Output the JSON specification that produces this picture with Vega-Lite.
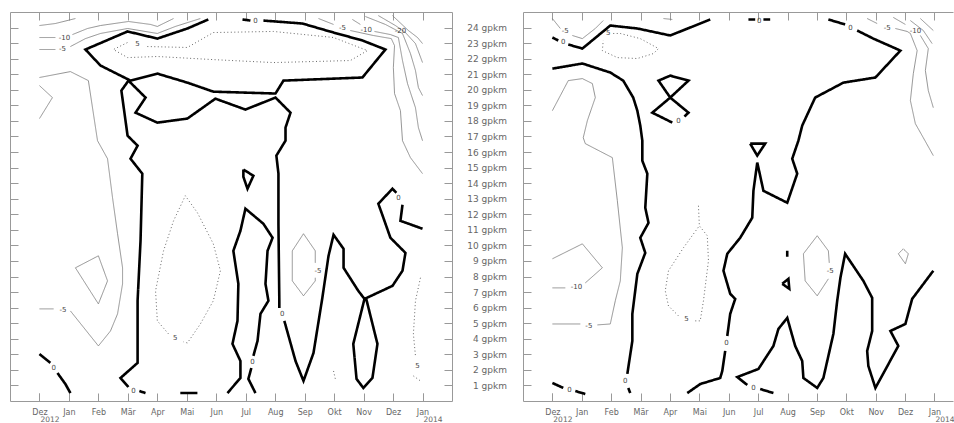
{
"$schema": "https://vega.github.io/schema/vega-lite/v6.json",
"padding": {"left": 9, "top": 11, "right": 0, "bottom": 0},
"spacing": 71,
"bounds": "flush",
"config": {"view": {"stroke": null}, "axis": {"grid": false, "title": null, "domainColor": "#999", "tickColor": "#999", "labelColor": "#666", "labelFont": "DejaVu Sans", "tickSize": -8, "labelFlush": false, "labelOverlap": false, "minExtent": 0}},
"datasets": {
"L": [
{"s":"a1","o":0,"v":0,"x":5.73,"y":24.52},{"s":"a1","o":1,"v":0,"x":5.02,"y":23.94},{"s":"a1","o":2,"v":0,"x":4.00,"y":23.29},{"s":"a1","o":3,"v":0,"x":2.99,"y":23.75},{"s":"a1","o":4,"v":0,"x":1.56,"y":22.59},{"s":"a1","o":5,"v":0,"x":2.07,"y":21.56},{"s":"a1","o":6,"v":0,"x":3.09,"y":20.59},{"s":"a1","o":7,"v":0,"x":4.00,"y":21.04},{"s":"a1","o":8,"v":0,"x":5.02,"y":20.46},{"s":"a1","o":9,"v":0,"x":5.90,"y":19.88},{"s":"a1","o":10,"v":0,"x":8.01,"y":19.76},{"s":"a1","o":11,"v":0,"x":8.28,"y":20.59},{"s":"a1","o":12,"v":0,"x":10.96,"y":20.79},{"s":"a1","o":13,"v":0,"x":11.74,"y":22.59},{"s":"a1","o":14,"v":0,"x":10.96,"y":23.17},{"s":"a1","o":15,"v":0,"x":9.98,"y":23.68},{"s":"a1","o":16,"v":0,"x":8.92,"y":24.26},{"s":"a1","o":17,"v":0,"x":7.60,"y":24.45},
{"s":"a2","o":0,"v":0,"x":6.89,"y":24.52},{"s":"a2","o":1,"v":0,"x":7.16,"y":24.45},
{"s":"a3","o":0,"v":0,"x":3.02,"y":20.59},{"s":"a3","o":1,"v":0,"x":3.60,"y":19.50},{"s":"a3","o":2,"v":0,"x":3.26,"y":18.53},{"s":"a3","o":3,"v":0,"x":4.00,"y":17.89},{"s":"a3","o":4,"v":0,"x":5.02,"y":18.15},{"s":"a3","o":5,"v":0,"x":5.97,"y":19.43},{"s":"a3","o":6,"v":0,"x":6.99,"y":18.73},{"s":"a3","o":7,"v":0,"x":8.01,"y":19.50},{"s":"a3","o":8,"v":0,"x":8.52,"y":18.53},{"s":"a3","o":9,"v":0,"x":8.35,"y":17.57},{"s":"a3","o":10,"v":0,"x":8.35,"y":16.73},{"s":"a3","o":11,"v":0,"x":8.04,"y":15.77},{"s":"a3","o":12,"v":0,"x":8.11,"y":14.61},{"s":"a3","o":13,"v":0,"x":8.11,"y":11.39},{"s":"a3","o":14,"v":0,"x":8.14,"y":6.44},{"s":"a3","o":15,"v":0,"x":8.14,"y":5.98},
{"s":"a4","o":0,"v":0,"x":8.31,"y":5.15},{"s":"a4","o":1,"v":0,"x":8.69,"y":2.57},{"s":"a4","o":2,"v":0,"x":8.96,"y":1.29},{"s":"a4","o":3,"v":0,"x":9.30,"y":3.09},{"s":"a4","o":4,"v":0,"x":9.60,"y":6.63},{"s":"a4","o":5,"v":0,"x":9.81,"y":9.33},{"s":"a4","o":6,"v":0,"x":9.98,"y":10.68},{"s":"a4","o":7,"v":0,"x":10.32,"y":9.78},{"s":"a4","o":8,"v":0,"x":10.32,"y":8.56},{"s":"a4","o":9,"v":0,"x":10.82,"y":7.08},{"s":"a4","o":10,"v":0,"x":11.03,"y":6.56},{"s":"a4","o":11,"v":0,"x":11.98,"y":7.40},{"s":"a4","o":12,"v":0,"x":12.32,"y":8.37},{"s":"a4","o":13,"v":0,"x":12.42,"y":9.52},{"s":"a4","o":14,"v":0,"x":11.91,"y":10.49},{"s":"a4","o":15,"v":0,"x":11.67,"y":11.78},{"s":"a4","o":16,"v":0,"x":11.50,"y":12.68},{"s":"a4","o":17,"v":0,"x":11.98,"y":13.64},{"s":"a4","o":18,"v":0,"x":12.11,"y":13.38},
{"s":"a5","o":0,"v":0,"x":12.32,"y":12.61},{"s":"a5","o":1,"v":0,"x":12.25,"y":11.58},{"s":"a5","o":2,"v":0,"x":13.00,"y":11.07},
{"s":"a6","o":0,"v":0,"x":11.03,"y":6.56},{"s":"a6","o":1,"v":0,"x":10.65,"y":3.67},{"s":"a6","o":2,"v":0,"x":10.76,"y":1.42},{"s":"a6","o":3,"v":0,"x":10.99,"y":0.84},{"s":"a6","o":4,"v":0,"x":11.30,"y":1.48},{"s":"a6","o":5,"v":0,"x":11.47,"y":3.67},{"s":"a6","o":6,"v":0,"x":11.09,"y":6.56},
{"s":"a7","o":0,"v":0,"x":3.02,"y":20.59},{"s":"a7","o":1,"v":0,"x":2.78,"y":19.95},{"s":"a7","o":2,"v":0,"x":2.92,"y":18.02},{"s":"a7","o":3,"v":0,"x":2.99,"y":17.05},{"s":"a7","o":4,"v":0,"x":3.33,"y":16.41},{"s":"a7","o":5,"v":0,"x":3.09,"y":15.57},{"s":"a7","o":6,"v":0,"x":3.49,"y":14.61},{"s":"a7","o":7,"v":0,"x":3.43,"y":10.30},{"s":"a7","o":8,"v":0,"x":3.33,"y":6.44},{"s":"a7","o":9,"v":0,"x":3.33,"y":2.45},{"s":"a7","o":10,"v":0,"x":2.75,"y":1.48},{"s":"a7","o":11,"v":0,"x":3.02,"y":0.90},
{"s":"a8","o":0,"v":0,"x":3.39,"y":0.64},{"s":"a8","o":1,"v":0,"x":3.60,"y":0.51},
{"s":"a9","o":0,"v":0,"x":6.92,"y":14.87},{"s":"a9","o":1,"v":0,"x":7.26,"y":14.48},{"s":"a9","o":2,"v":0,"x":7.06,"y":13.64},{"s":"a9","o":3,"v":0,"x":6.92,"y":14.41},{"s":"a9","o":4,"v":0,"x":6.92,"y":14.87},
{"s":"a10","o":0,"v":0,"x":6.38,"y":0.51},{"s":"a10","o":1,"v":0,"x":6.82,"y":1.48},{"s":"a10","o":2,"v":0,"x":6.82,"y":2.57},{"s":"a10","o":3,"v":0,"x":6.55,"y":3.67},{"s":"a10","o":4,"v":0,"x":6.72,"y":5.15},{"s":"a10","o":5,"v":0,"x":6.75,"y":7.53},{"s":"a10","o":6,"v":0,"x":6.58,"y":9.65},{"s":"a10","o":7,"v":0,"x":6.82,"y":10.94},{"s":"a10","o":8,"v":0,"x":6.99,"y":12.36},{"s":"a10","o":9,"v":0,"x":7.60,"y":11.39},{"s":"a10","o":10,"v":0,"x":7.91,"y":10.49},{"s":"a10","o":11,"v":0,"x":7.74,"y":9.65},{"s":"a10","o":12,"v":0,"x":7.67,"y":7.53},{"s":"a10","o":13,"v":0,"x":7.77,"y":6.44},{"s":"a10","o":14,"v":0,"x":7.50,"y":5.60},{"s":"a10","o":15,"v":0,"x":7.40,"y":3.86},{"s":"a10","o":16,"v":0,"x":7.26,"y":2.90},
{"s":"a11","o":0,"v":0,"x":7.19,"y":2.12},{"s":"a11","o":1,"v":0,"x":7.09,"y":1.42},{"s":"a11","o":2,"v":0,"x":7.33,"y":0.51},
{"s":"a12","o":0,"v":0,"x":0.0,"y":3.02},{"s":"a12","o":1,"v":0,"x":0.37,"y":2.45},
{"s":"a13","o":0,"v":0,"x":0.61,"y":1.80},{"s":"a13","o":1,"v":0,"x":0.88,"y":1.09},{"s":"a13","o":2,"v":0,"x":1.05,"y":0.51},
{"s":"a14","o":0,"v":0,"x":4.78,"y":0.51},{"s":"a14","o":1,"v":0,"x":5.36,"y":0.51},
{"s":"b1","o":0,"v":-5,"x":0.0,"y":20.79},{"s":"b1","o":1,"v":-5,"x":1.05,"y":21.17},{"s":"b1","o":2,"v":-5,"x":1.66,"y":20.59},{"s":"b1","o":3,"v":-5,"x":1.97,"y":16.73},{"s":"b1","o":4,"v":-5,"x":2.31,"y":15.57},{"s":"b1","o":5,"v":-5,"x":2.48,"y":13.06},{"s":"b1","o":6,"v":-5,"x":2.65,"y":10.75},{"s":"b1","o":7,"v":-5,"x":2.82,"y":8.56},{"s":"b1","o":8,"v":-5,"x":2.82,"y":7.53},{"s":"b1","o":9,"v":-5,"x":2.65,"y":5.60},{"s":"b1","o":10,"v":-5,"x":2.41,"y":4.50},{"s":"b1","o":11,"v":-5,"x":2.00,"y":3.54},{"s":"b1","o":12,"v":-5,"x":1.05,"y":5.79},
{"s":"b2","o":0,"v":-5,"x":0.0,"y":5.92},{"s":"b2","o":1,"v":-5,"x":0.48,"y":5.92},
{"s":"b3","o":0,"v":-10,"x":0.0,"y":20.27},{"s":"b3","o":1,"v":-10,"x":0.44,"y":19.50},{"s":"b3","o":2,"v":-10,"x":0.0,"y":18.15},
{"s":"b4","o":0,"v":-10,"x":1.22,"y":8.56},{"s":"b4","o":1,"v":-10,"x":2.00,"y":9.33},{"s":"b4","o":2,"v":-10,"x":2.31,"y":7.72},{"s":"b4","o":3,"v":-10,"x":2.00,"y":6.24},{"s":"b4","o":4,"v":-10,"x":1.22,"y":8.56},
{"s":"b5","o":0,"v":-15,"x":0.0,"y":24.13},{"s":"b5","o":1,"v":-15,"x":0.54,"y":24.26},{"s":"b5","o":2,"v":-15,"x":1.22,"y":24.58},
{"s":"b6","o":0,"v":-10,"x":0.0,"y":23.36},{"s":"b6","o":1,"v":-10,"x":0.54,"y":23.36},
{"s":"b7","o":0,"v":-10,"x":1.12,"y":23.55},{"s":"b7","o":1,"v":-10,"x":1.63,"y":23.94},{"s":"b7","o":2,"v":-10,"x":2.07,"y":24.13},{"s":"b7","o":3,"v":-10,"x":3.02,"y":24.39},{"s":"b7","o":4,"v":-10,"x":3.77,"y":24.20},{"s":"b7","o":5,"v":-10,"x":4.00,"y":24.07},{"s":"b7","o":6,"v":-10,"x":4.55,"y":24.58},
{"s":"b8","o":0,"v":-5,"x":0.0,"y":22.59},{"s":"b8","o":1,"v":-5,"x":0.54,"y":22.59},
{"s":"b9","o":0,"v":-5,"x":1.05,"y":22.78},{"s":"b9","o":1,"v":-5,"x":1.56,"y":23.29},{"s":"b9","o":2,"v":-5,"x":2.07,"y":23.62},{"s":"b9","o":3,"v":-5,"x":2.99,"y":23.94},{"s":"b9","o":4,"v":-5,"x":4.00,"y":23.62},{"s":"b9","o":5,"v":-5,"x":4.61,"y":24.07},{"s":"b9","o":6,"v":-5,"x":5.46,"y":24.58},
{"s":"c1","o":0,"v":-5,"x":9.36,"y":8.88},{"s":"c1","o":1,"v":-5,"x":9.36,"y":9.65},{"s":"c1","o":2,"v":-5,"x":8.96,"y":10.75},{"s":"c1","o":3,"v":-5,"x":8.58,"y":9.65},{"s":"c1","o":4,"v":-5,"x":8.58,"y":7.72},{"s":"c1","o":5,"v":-5,"x":8.96,"y":6.76},{"s":"c1","o":6,"v":-5,"x":9.36,"y":7.72},{"s":"c1","o":7,"v":-5,"x":9.36,"y":7.92},
{"s":"f1","o":0,"v":-5,"x":9.47,"y":24.58},{"s":"f1","o":1,"v":-5,"x":9.98,"y":24.20},
{"s":"f2","o":0,"v":-5,"x":10.55,"y":23.81},{"s":"f2","o":1,"v":-5,"x":11.33,"y":23.49},{"s":"f2","o":2,"v":-5,"x":11.94,"y":23.29},{"s":"f2","o":3,"v":-5,"x":12.05,"y":22.84},{"s":"f2","o":4,"v":-5,"x":12.01,"y":21.43},{"s":"f2","o":5,"v":-5,"x":12.05,"y":19.76},{"s":"f2","o":6,"v":-5,"x":12.25,"y":18.66},{"s":"f2","o":7,"v":-5,"x":12.32,"y":16.73},{"s":"f2","o":8,"v":-5,"x":12.59,"y":15.64},{"s":"f2","o":9,"v":-5,"x":13.00,"y":14.61},
{"s":"f3","o":0,"v":-10,"x":10.62,"y":24.52},{"s":"f3","o":1,"v":-10,"x":10.89,"y":24.20},
{"s":"f4","o":0,"v":-10,"x":11.37,"y":23.75},{"s":"f4","o":1,"v":-10,"x":11.91,"y":23.55},{"s":"f4","o":2,"v":-10,"x":12.18,"y":23.36},{"s":"f4","o":3,"v":-10,"x":12.32,"y":21.88},{"s":"f4","o":4,"v":-10,"x":12.49,"y":20.40},{"s":"f4","o":5,"v":-10,"x":12.76,"y":18.85},{"s":"f4","o":6,"v":-10,"x":12.86,"y":17.57},{"s":"f4","o":7,"v":-10,"x":13.00,"y":16.73},
{"s":"f5","o":0,"v":-15,"x":11.06,"y":24.71},{"s":"f5","o":1,"v":-15,"x":11.74,"y":24.20},{"s":"f5","o":2,"v":-15,"x":12.32,"y":23.62},{"s":"f5","o":3,"v":-15,"x":12.59,"y":22.33},{"s":"f5","o":4,"v":-15,"x":12.76,"y":21.24},{"s":"f5","o":5,"v":-15,"x":12.86,"y":20.14},{"s":"f5","o":6,"v":-15,"x":13.00,"y":19.63},
{"s":"f6","o":0,"v":-20,"x":11.50,"y":24.77},{"s":"f6","o":1,"v":-20,"x":12.08,"y":24.13},{"s":"f6","o":2,"v":-20,"x":12.42,"y":23.68},{"s":"f6","o":3,"v":-20,"x":12.76,"y":22.97},{"s":"f6","o":4,"v":-20,"x":13.00,"y":21.75},
{"s":"f7","o":0,"v":-25,"x":11.98,"y":24.77},{"s":"f7","o":1,"v":-25,"x":12.52,"y":23.81},{"s":"f7","o":2,"v":-25,"x":12.83,"y":23.36},{"s":"f7","o":3,"v":-25,"x":13.00,"y":22.97},
{"s":"d1","o":0,"v":5,"x":3.66,"y":22.78},{"s":"d1","o":1,"v":5,"x":5.02,"y":22.72},{"s":"d1","o":2,"v":5,"x":5.90,"y":23.68},{"s":"d1","o":3,"v":5,"x":7.94,"y":23.75},{"s":"d1","o":4,"v":5,"x":9.98,"y":23.36},{"s":"d1","o":5,"v":5,"x":11.13,"y":22.52},{"s":"d1","o":6,"v":5,"x":10.55,"y":21.88},{"s":"d1","o":7,"v":5,"x":7.94,"y":21.75},{"s":"d1","o":8,"v":5,"x":5.90,"y":21.94},{"s":"d1","o":9,"v":5,"x":4.00,"y":22.14},{"s":"d1","o":10,"v":5,"x":2.99,"y":22.07},{"s":"d1","o":11,"v":5,"x":2.51,"y":22.59},{"s":"d1","o":12,"v":5,"x":2.99,"y":23.04},
{"s":"d2","o":0,"v":5,"x":4.38,"y":4.31},{"s":"d2","o":1,"v":5,"x":4.00,"y":5.15},{"s":"d2","o":2,"v":5,"x":3.94,"y":7.08},{"s":"d2","o":3,"v":5,"x":4.21,"y":9.65},{"s":"d2","o":4,"v":5,"x":4.55,"y":11.58},{"s":"d2","o":5,"v":5,"x":4.95,"y":13.19},{"s":"d2","o":6,"v":5,"x":5.36,"y":12.10},{"s":"d2","o":7,"v":5,"x":5.90,"y":10.10},{"s":"d2","o":8,"v":5,"x":6.14,"y":8.37},{"s":"d2","o":9,"v":5,"x":5.90,"y":6.44},{"s":"d2","o":10,"v":5,"x":5.46,"y":4.95},{"s":"d2","o":11,"v":5,"x":5.02,"y":3.73},{"s":"d2","o":12,"v":5,"x":4.89,"y":3.80},
{"s":"d3","o":0,"v":5,"x":12.93,"y":7.92},{"s":"d3","o":1,"v":5,"x":12.76,"y":6.44},{"s":"d3","o":2,"v":5,"x":12.69,"y":4.31},{"s":"d3","o":3,"v":5,"x":12.76,"y":2.90},
{"s":"d4","o":0,"v":5,"x":12.69,"y":1.61},{"s":"d4","o":1,"v":5,"x":12.93,"y":1.29},
{"s":"d5","o":0,"v":5,"x":9.98,"y":1.93},{"s":"d5","o":1,"v":5,"x":10.04,"y":1.42}
],
"R": [
{"s":"r1","o":0,"v":0,"x":0.0,"y":23.36},{"s":"r1","o":1,"v":0,"x":0.20,"y":23.17},
{"s":"r2","o":0,"v":0,"x":0.54,"y":22.91},{"s":"r2","o":1,"v":0,"x":1.02,"y":22.65},{"s":"r2","o":2,"v":0,"x":1.97,"y":24.13},{"s":"r2","o":3,"v":0,"x":2.89,"y":23.94},{"s":"r2","o":4,"v":0,"x":4.01,"y":23.49},{"s":"r2","o":5,"v":0,"x":5.37,"y":24.52},
{"s":"r3","o":0,"v":0,"x":6.67,"y":24.52},{"s":"r3","o":1,"v":0,"x":6.90,"y":24.52},
{"s":"r3b","o":0,"v":0,"x":7.18,"y":24.52},{"s":"r3b","o":1,"v":0,"x":7.41,"y":24.52},
{"s":"r4","o":0,"v":0,"x":9.39,"y":24.52},{"s":"r4","o":1,"v":0,"x":9.96,"y":24.20},
{"s":"r5","o":0,"v":0,"x":10.37,"y":23.81},{"s":"r5","o":1,"v":0,"x":10.92,"y":23.29},{"s":"r5","o":2,"v":0,"x":11.84,"y":22.52},{"s":"r5","o":3,"v":0,"x":10.99,"y":20.79},{"s":"r5","o":4,"v":0,"x":9.90,"y":20.46},{"s":"r5","o":5,"v":0,"x":8.94,"y":19.50},{"s":"r5","o":6,"v":0,"x":8.50,"y":17.70},{"s":"r5","o":7,"v":0,"x":8.37,"y":16.73},{"s":"r5","o":8,"v":0,"x":8.16,"y":15.57},{"s":"r5","o":9,"v":0,"x":8.33,"y":14.61},{"s":"r5","o":10,"v":0,"x":7.99,"y":12.74},{"s":"r5","o":11,"v":0,"x":7.18,"y":13.51},{"s":"r5","o":12,"v":0,"x":7.01,"y":14.99},{"s":"r5","o":13,"v":0,"x":6.97,"y":15.32},{"s":"r5","o":14,"v":0,"x":6.84,"y":13.51},{"s":"r5","o":15,"v":0,"x":6.80,"y":11.78},{"s":"r5","o":16,"v":0,"x":6.39,"y":10.49},{"s":"r5","o":17,"v":0,"x":5.95,"y":9.46},{"s":"r5","o":18,"v":0,"x":5.82,"y":8.37},{"s":"r5","o":19,"v":0,"x":6.05,"y":6.89},{"s":"r5","o":20,"v":0,"x":6.22,"y":6.56},{"s":"r5","o":21,"v":0,"x":6.05,"y":5.60},{"s":"r5","o":22,"v":0,"x":5.95,"y":4.18},
{"s":"r6","o":0,"v":0,"x":5.88,"y":3.22},{"s":"r6","o":1,"v":0,"x":5.78,"y":1.93},{"s":"r6","o":2,"v":0,"x":5.71,"y":1.48},{"s":"r6","o":3,"v":0,"x":5.03,"y":1.09},{"s":"r6","o":4,"v":0,"x":4.59,"y":0.51},
{"s":"r7","o":0,"v":0,"x":6.73,"y":16.54},{"s":"r7","o":1,"v":0,"x":7.24,"y":16.54},{"s":"r7","o":2,"v":0,"x":6.97,"y":15.77},{"s":"r7","o":3,"v":0,"x":6.73,"y":16.54},
{"s":"r8","o":0,"v":0,"x":0.0,"y":21.36},{"s":"r8","o":1,"v":0,"x":1.02,"y":21.69},{"s":"r8","o":2,"v":0,"x":1.97,"y":21.11},{"s":"r8","o":3,"v":0,"x":2.41,"y":20.59},{"s":"r8","o":4,"v":0,"x":2.75,"y":19.50},{"s":"r8","o":5,"v":0,"x":2.89,"y":18.66},{"s":"r8","o":6,"v":0,"x":2.99,"y":17.70},{"s":"r8","o":7,"v":0,"x":3.06,"y":16.73},{"s":"r8","o":8,"v":0,"x":3.06,"y":15.44},{"s":"r8","o":9,"v":0,"x":3.23,"y":14.61},{"s":"r8","o":10,"v":0,"x":3.16,"y":12.42},{"s":"r8","o":11,"v":0,"x":3.27,"y":11.45},{"s":"r8","o":12,"v":0,"x":2.99,"y":10.49},{"s":"r8","o":13,"v":0,"x":3.16,"y":9.52},{"s":"r8","o":14,"v":0,"x":2.89,"y":8.17},{"s":"r8","o":15,"v":0,"x":2.72,"y":5.60},{"s":"r8","o":16,"v":0,"x":2.72,"y":3.86},{"s":"r8","o":17,"v":0,"x":2.58,"y":2.12},{"s":"r8","o":18,"v":0,"x":2.55,"y":1.74},
{"s":"r9","o":0,"v":0,"x":2.58,"y":0.84},{"s":"r9","o":1,"v":0,"x":2.65,"y":0.51},
{"s":"r10","o":0,"v":0,"x":4.08,"y":17.89},{"s":"r10","o":1,"v":0,"x":3.40,"y":18.53},{"s":"r10","o":2,"v":0,"x":4.01,"y":19.50},{"s":"r10","o":3,"v":0,"x":3.61,"y":20.59},{"s":"r10","o":4,"v":0,"x":4.01,"y":20.91},{"s":"r10","o":5,"v":0,"x":4.63,"y":20.59},{"s":"r10","o":6,"v":0,"x":4.01,"y":19.50},{"s":"r10","o":7,"v":0,"x":4.63,"y":18.53},{"s":"r10","o":8,"v":0,"x":4.49,"y":18.28},
{"s":"r11","o":0,"v":0,"x":7.99,"y":9.65},{"s":"r11","o":1,"v":0,"x":7.99,"y":9.27},
{"s":"r12","o":0,"v":0,"x":7.82,"y":7.53},{"s":"r12","o":1,"v":0,"x":8.03,"y":7.85},{"s":"r12","o":2,"v":0,"x":8.06,"y":7.21},{"s":"r12","o":3,"v":0,"x":7.82,"y":7.53},
{"s":"r13","o":0,"v":0,"x":6.63,"y":1.03},{"s":"r13","o":1,"v":0,"x":6.29,"y":1.54},{"s":"r13","o":2,"v":0,"x":7.01,"y":2.06},{"s":"r13","o":3,"v":0,"x":7.52,"y":3.54},{"s":"r13","o":4,"v":0,"x":7.69,"y":4.63},{"s":"r13","o":5,"v":0,"x":7.99,"y":5.34},{"s":"r13","o":6,"v":0,"x":8.26,"y":3.54},{"s":"r13","o":7,"v":0,"x":8.50,"y":2.57},{"s":"r13","o":8,"v":0,"x":8.54,"y":1.48},{"s":"r13","o":9,"v":0,"x":9.01,"y":0.84},{"s":"r13","o":10,"v":0,"x":9.22,"y":1.48},{"s":"r13","o":11,"v":0,"x":9.56,"y":4.31},{"s":"r13","o":12,"v":0,"x":9.69,"y":6.44},{"s":"r13","o":13,"v":0,"x":9.80,"y":7.92},{"s":"r13","o":14,"v":0,"x":9.96,"y":9.46},{"s":"r13","o":15,"v":0,"x":10.58,"y":7.72},{"s":"r13","o":16,"v":0,"x":10.88,"y":6.63},{"s":"r13","o":17,"v":0,"x":10.88,"y":4.50},{"s":"r13","o":18,"v":0,"x":10.71,"y":3.22},{"s":"r13","o":19,"v":0,"x":10.75,"y":2.25},{"s":"r13","o":20,"v":0,"x":10.99,"y":0.84},{"s":"r13","o":21,"v":0,"x":11.77,"y":3.54},{"s":"r13","o":22,"v":0,"x":11.50,"y":4.50},{"s":"r13","o":23,"v":0,"x":12.01,"y":4.95},{"s":"r13","o":24,"v":0,"x":12.24,"y":6.56},{"s":"r13","o":25,"v":0,"x":12.96,"y":8.37},
{"s":"r14","o":0,"v":0,"x":7.07,"y":0.77},{"s":"r14","o":1,"v":0,"x":7.52,"y":0.51},
{"s":"r15","o":0,"v":0,"x":0.0,"y":1.16},{"s":"r15","o":1,"v":0,"x":0.37,"y":0.84},
{"s":"r16","o":0,"v":0,"x":0.78,"y":0.64},{"s":"r16","o":1,"v":0,"x":1.12,"y":0.45},
{"s":"s1","o":0,"v":-5,"x":0.0,"y":24.58},{"s":"s1","o":1,"v":-5,"x":0.27,"y":23.94},
{"s":"s2","o":0,"v":-5,"x":0.68,"y":23.49},{"s":"s2","o":1,"v":-5,"x":1.02,"y":23.29},{"s":"s2","o":2,"v":-5,"x":1.46,"y":23.94},{"s":"s2","o":3,"v":-5,"x":1.73,"y":24.45},
{"s":"s3","o":0,"v":-5,"x":3.78,"y":24.58},{"s":"s3","o":1,"v":-5,"x":4.08,"y":24.52},
{"s":"s4","o":0,"v":-5,"x":0.0,"y":18.66},{"s":"s4","o":1,"v":-5,"x":0.54,"y":20.59},{"s":"s4","o":2,"v":-5,"x":1.02,"y":20.72},{"s":"s4","o":3,"v":-5,"x":1.36,"y":20.40},{"s":"s4","o":4,"v":-5,"x":1.46,"y":19.50},{"s":"s4","o":5,"v":-5,"x":1.19,"y":18.02},{"s":"s4","o":6,"v":-5,"x":1.05,"y":16.92},{"s":"s4","o":7,"v":-5,"x":1.12,"y":16.54},{"s":"s4","o":8,"v":-5,"x":2.04,"y":15.64},{"s":"s4","o":9,"v":-5,"x":2.21,"y":12.87},{"s":"s4","o":10,"v":-5,"x":2.38,"y":9.85},{"s":"s4","o":11,"v":-5,"x":2.31,"y":7.72},{"s":"s4","o":12,"v":-5,"x":2.14,"y":6.44},{"s":"s4","o":13,"v":-5,"x":1.97,"y":4.95},{"s":"s4","o":14,"v":-5,"x":1.53,"y":4.89},
{"s":"s5","o":0,"v":-5,"x":0.95,"y":4.95},{"s":"s5","o":1,"v":-5,"x":0.0,"y":4.95},
{"s":"s6","o":0,"v":-10,"x":1.12,"y":7.59},{"s":"s6","o":1,"v":-10,"x":1.70,"y":8.56},{"s":"s6","o":2,"v":-10,"x":1.02,"y":10.10},{"s":"s6","o":3,"v":-10,"x":0.0,"y":9.14},
{"s":"s7","o":0,"v":-10,"x":0.0,"y":7.27},{"s":"s7","o":1,"v":-10,"x":0.44,"y":7.27},
{"s":"s8","o":0,"v":-5,"x":9.42,"y":8.88},{"s":"s8","o":1,"v":-5,"x":9.39,"y":9.65},{"s":"s8","o":2,"v":-5,"x":9.01,"y":10.62},{"s":"s8","o":3,"v":-5,"x":8.54,"y":9.46},{"s":"s8","o":4,"v":-5,"x":8.60,"y":7.72},{"s":"s8","o":5,"v":-5,"x":9.01,"y":6.76},{"s":"s8","o":6,"v":-5,"x":9.39,"y":7.85},
{"s":"s9","o":0,"v":-5,"x":11.77,"y":9.46},{"s":"s9","o":1,"v":-5,"x":11.94,"y":9.78},{"s":"s9","o":2,"v":-5,"x":12.11,"y":9.46},{"s":"s9","o":3,"v":-5,"x":12.01,"y":8.82},{"s":"s9","o":4,"v":-5,"x":11.77,"y":9.46},
{"s":"t1","o":0,"v":-5,"x":10.71,"y":24.58},{"s":"t1","o":1,"v":-5,"x":11.05,"y":24.26},
{"s":"t2","o":0,"v":-5,"x":11.67,"y":23.94},{"s":"t2","o":1,"v":-5,"x":12.07,"y":23.75},{"s":"t2","o":2,"v":-5,"x":12.18,"y":23.62},{"s":"t2","o":3,"v":-5,"x":12.41,"y":22.52},{"s":"t2","o":4,"v":-5,"x":12.28,"y":21.04},{"s":"t2","o":5,"v":-5,"x":12.18,"y":19.31},{"s":"t2","o":6,"v":-5,"x":12.35,"y":17.82},{"s":"t2","o":7,"v":-5,"x":12.62,"y":16.92},{"s":"t2","o":8,"v":-5,"x":12.96,"y":15.77},
{"s":"t3","o":0,"v":-10,"x":11.60,"y":24.65},{"s":"t3","o":1,"v":-10,"x":12.01,"y":24.20},
{"s":"t4","o":0,"v":-10,"x":12.52,"y":23.49},{"s":"t4","o":1,"v":-10,"x":12.79,"y":22.65},{"s":"t4","o":2,"v":-10,"x":12.69,"y":21.24},{"s":"t4","o":3,"v":-10,"x":12.79,"y":19.95},{"s":"t4","o":4,"v":-10,"x":12.96,"y":18.85},
{"s":"t5","o":0,"v":-15,"x":12.18,"y":24.45},{"s":"t5","o":1,"v":-15,"x":12.62,"y":23.81},{"s":"t5","o":2,"v":-15,"x":12.92,"y":22.97},
{"s":"t6","o":0,"v":-20,"x":12.52,"y":24.58},{"s":"t6","o":1,"v":-20,"x":12.96,"y":23.81},
{"s":"d6","o":0,"v":5,"x":2.07,"y":23.62},{"s":"d6","o":1,"v":5,"x":2.31,"y":23.62},{"s":"d6","o":2,"v":5,"x":2.99,"y":23.29},{"s":"d6","o":3,"v":5,"x":3.61,"y":22.65},{"s":"d6","o":4,"v":5,"x":3.44,"y":22.33},{"s":"d6","o":5,"v":5,"x":2.89,"y":22.01},{"s":"d6","o":6,"v":5,"x":2.21,"y":22.07},{"s":"d6","o":7,"v":5,"x":1.70,"y":22.52},{"s":"d6","o":8,"v":5,"x":1.73,"y":23.17},
{"s":"d7","o":0,"v":5,"x":4.97,"y":12.55},{"s":"d7","o":1,"v":5,"x":5.00,"y":11.26},{"s":"d7","o":2,"v":5,"x":5.27,"y":10.62},{"s":"d7","o":3,"v":5,"x":5.31,"y":9.01},{"s":"d7","o":4,"v":5,"x":5.14,"y":6.44},{"s":"d7","o":5,"v":5,"x":5.03,"y":5.15},{"s":"d7","o":6,"v":5,"x":4.83,"y":5.15},
{"s":"d8","o":0,"v":5,"x":4.29,"y":5.47},{"s":"d8","o":1,"v":5,"x":3.95,"y":6.11},{"s":"d8","o":2,"v":5,"x":3.84,"y":7.08},{"s":"d8","o":3,"v":5,"x":3.95,"y":8.37},{"s":"d8","o":4,"v":5,"x":4.46,"y":9.85},{"s":"d8","o":5,"v":5,"x":5.00,"y":11.26}
],
"LT": [
{"x":7.33,"y":24.39,"t":"0"},{"x":8.24,"y":5.60,"t":"0"},{"x":12.18,"y":13.06,"t":"0"},{"x":3.19,"y":0.64,"t":"0"},{"x":7.23,"y":2.51,"t":"0"},{"x":0.48,"y":2.12,"t":"0"},
{"x":0.80,"y":5.86,"t":"-5"},{"x":0.85,"y":23.36,"t":"-10"},{"x":0.78,"y":22.65,"t":"-5"},{"x":3.33,"y":22.97,"t":"5"},{"x":4.61,"y":4.05,"t":"5"},{"x":12.83,"y":2.25,"t":"5"},
{"x":9.45,"y":8.37,"t":"-5"},{"x":10.28,"y":24.00,"t":"-5"},{"x":11.09,"y":23.87,"t":"-10"},{"x":12.25,"y":23.81,"t":"-20"}
],
"RT": [
{"x":0.44,"y":23.75,"t":"-5"},{"x":0.37,"y":23.04,"t":"0"},{"x":7.04,"y":24.39,"t":"0"},{"x":10.14,"y":23.94,"t":"0"},{"x":5.92,"y":3.73,"t":"0"},{"x":2.48,"y":1.29,"t":"0"},
{"x":4.29,"y":18.02,"t":"0"},{"x":6.84,"y":0.84,"t":"0"},{"x":0.58,"y":0.71,"t":"0"},{"x":1.24,"y":4.83,"t":"-5"},{"x":0.82,"y":7.34,"t":"-10"},{"x":9.45,"y":8.37,"t":"-5"},
{"x":11.39,"y":24.00,"t":"-5"},{"x":12.35,"y":23.75,"t":"-10"},{"x":1.90,"y":23.62,"t":"5"},{"x":4.56,"y":5.28,"t":"5"}
]
},
"hconcat": [
{
"width": 442, "height": 389,
"resolve": {"axis": {"x": "independent", "y": "independent"}},
"layer": [
{"data": {"name": "L"},
 "mark": {"type": "line", "strokeJoin": "miter"},
 "encoding": {
  "x": {"field": "x", "type": "quantitative", "scale": {"domain": [-1, 14], "nice": false, "zero": false},
        "axis": {"orient": "bottom", "values": [0,1,2,3,4,5,6,7,8,9,10,11,12,13], "labelFontSize": 8, "labelPadding": 15,
                 "labelExpr": "['Dez','Jan','Feb','Mär','Apr','Mai','Jun','Jul','Aug','Sep','Okt','Nov','Dez','Jan'][datum.value]"}},
  "y": {"field": "y", "type": "quantitative", "scale": {"domain": [0, 25], "nice": false, "zero": false},
        "axis": {"orient": "left", "values": [1,2,3,4,5,6,7,8,9,10,11,12,13,14,15,16,17,18,19,20,21,22,23,24], "labels": false}},
  "detail": {"field": "s"},
  "order": {"field": "o", "type": "quantitative"},
  "color": {"field": "v", "type": "ordinal", "scale": {"type": "ordinal", "domain": [-25,-20,-15,-10,-5,0,5], "range": ["#777","#777","#777","#777","#777","#000","#666"]}, "legend": null},
  "strokeWidth": {"field": "v", "type": "ordinal", "scale": {"type": "ordinal", "domain": [-25,-20,-15,-10,-5,0,5], "range": [0.8,0.8,0.8,0.8,0.8,2.6,1]}, "legend": null},
  "strokeDash": {"field": "v", "type": "ordinal", "scale": {"type": "ordinal", "domain": [-25,-20,-15,-10,-5,0,5], "range": [[1,0],[1,0],[1,0],[1,0],[1,0],[1,0],[1,2.5]]}, "legend": null}
 }},
{"data": {"name": "LT"},
 "mark": {"type": "text", "fontSize": 7, "font": "DejaVu Sans", "color": "#444"},
 "encoding": {
  "x": {"field": "x", "type": "quantitative",
        "axis": {"orient": "bottom", "values": [0, 13], "domain": false, "labelFontSize": 7.5, "labelPadding": 22.5, "labelOffset": 10, "labelExpr": "datum.value == 0 ? '2012' : '2014'"}},
  "y": {"field": "y", "type": "quantitative", "axis": null},
  "text": {"field": "t"}
 }},
{"data": {"name": "L"},
 "mark": {"type": "point", "opacity": 0},
 "encoding": {
  "x": {"field": "x", "type": "quantitative", "axis": {"orient": "top", "values": [0,1,2,3,4,5,6,7,8,9,10,11,12,13], "labels": false}},
  "y": {"field": "y", "type": "quantitative", "axis": {"orient": "right", "values": [1,2,3,4,5,6,7,8,9,10,11,12,13,14,15,16,17,18,19,20,21,22,23,24], "labels": false}}
 }}
]
},
{
"width": 430, "height": 389,
"resolve": {"axis": {"x": "independent", "y": "independent"}},
"layer": [
{"data": {"name": "R"},
 "mark": {"type": "line", "strokeJoin": "miter"},
 "encoding": {
  "x": {"field": "x", "type": "quantitative", "scale": {"domain": [-1, 13.63], "nice": false, "zero": false},
        "axis": {"orient": "bottom", "values": [0,1,2,3,4,5,6,7,8,9,10,11,12,13], "labelFontSize": 8, "labelPadding": 15,
                 "labelExpr": "['Dez','Jan','Feb','Mär','Apr','Mai','Jun','Jul','Aug','Sep','Okt','Nov','Dez','Jan'][datum.value]"}},
  "y": {"field": "y", "type": "quantitative", "scale": {"domain": [0, 25], "nice": false, "zero": false},
        "axis": {"orient": "left", "values": [1,2,3,4,5,6,7,8,9,10,11,12,13,14,15,16,17,18,19,20,21,22,23,24], "labelFontSize": 9, "labelPadding": 24.5, "labelExpr": "datum.value + ' gpkm'"}},
  "detail": {"field": "s"},
  "order": {"field": "o", "type": "quantitative"},
  "color": {"field": "v", "type": "ordinal", "scale": {"type": "ordinal", "domain": [-25,-20,-15,-10,-5,0,5], "range": ["#777","#777","#777","#777","#777","#000","#666"]}, "legend": null},
  "strokeWidth": {"field": "v", "type": "ordinal", "scale": {"type": "ordinal", "domain": [-25,-20,-15,-10,-5,0,5], "range": [0.8,0.8,0.8,0.8,0.8,2.6,1]}, "legend": null},
  "strokeDash": {"field": "v", "type": "ordinal", "scale": {"type": "ordinal", "domain": [-25,-20,-15,-10,-5,0,5], "range": [[1,0],[1,0],[1,0],[1,0],[1,0],[1,0],[1,2.5]]}, "legend": null}
 }},
{"data": {"name": "RT"},
 "mark": {"type": "text", "fontSize": 7, "font": "DejaVu Sans", "color": "#444"},
 "encoding": {
  "x": {"field": "x", "type": "quantitative",
        "axis": {"orient": "bottom", "values": [0, 13], "domain": false, "labelFontSize": 7.5, "labelPadding": 22.5, "labelOffset": 10, "labelExpr": "datum.value == 0 ? '2012' : '2014'"}},
  "y": {"field": "y", "type": "quantitative", "axis": null},
  "text": {"field": "t"}
 }},
{"data": {"name": "R"},
 "mark": {"type": "point", "opacity": 0},
 "encoding": {
  "x": {"field": "x", "type": "quantitative", "axis": {"orient": "top", "values": [0,1,2,3,4,5,6,7,8,9,10,11,12,13], "labels": false}},
  "y": {"field": "y", "type": "quantitative", "axis": null}
 }}
]
}
]
}
